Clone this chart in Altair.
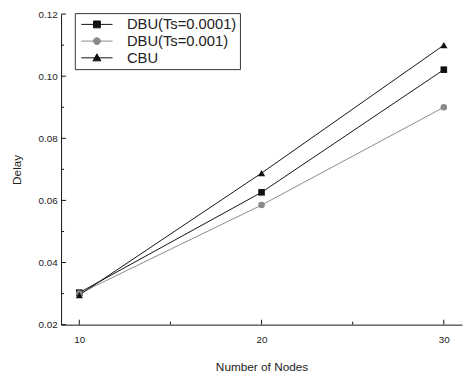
import altair as alt
import pandas as pd

nodes = [10, 20, 30]
series_names = ["DBU(Ts=0.0001)", "DBU(Ts=0.001)", "CBU"]
dbu_0001 = [0.0303, 0.0626, 0.1021]
dbu_001 = [0.0300, 0.0585, 0.0900]
cbu = [0.0295, 0.0688, 0.1100]
series_colors = ["#111111", "#8a8a8a", "#111111"]
marker_shapes = ["square", "circle", "triangle-up"]
legend_paths = [
    "M-2.05,0H2.05M-0.45,-0.45H0.45V0.45H-0.45Z",
    "M-2.05,0H2.05M-0.45,0A0.45,0.45 0 1,0 0.45,0A0.45,0.45 0 1,0 -0.45,0Z",
    "M-2.05,0H2.05M0,-0.52L0.52,0.4H-0.52Z",
]
x_major = [10, 20, 30]
x_minor = [15, 25]
y_major = [0.02, 0.04, 0.06, 0.08, 0.10, 0.12]
y_minor = [0.03, 0.05, 0.07, 0.09, 0.11]

rows = []
for name, vals in zip(series_names, [dbu_0001, dbu_001, cbu]):
    for n, v in zip(nodes, vals):
        rows.append({"nodes": n, "delay": v, "series": name})
df = pd.DataFrame(rows)

FONT = "Liberation Sans"
xs = alt.Scale(domain=[9, 31], nice=False, zero=False)
ys = alt.Scale(domain=[0.02, 0.12], nice=False, zero=False)
cs = alt.Scale(domain=series_names, range=series_colors)

leg = alt.Legend(orient="none", legendX=14, legendY=-1, title=None)

x_enc = alt.X("nodes:Q", scale=xs,
              axis=alt.Axis(values=x_major, title="Number of Nodes", format="d",
                            ticks=False, grid=False, labelPadding=10,
                            titlePadding=18))
y_enc = alt.Y("delay:Q", scale=ys,
              axis=alt.Axis(values=y_major, title="Delay", format=".2f",
                            ticks=False, grid=False, labelPadding=4,
                            titlePadding=15))

base = alt.Chart(df)

lines = base.mark_line(strokeWidth=1).encode(
    x=x_enc, y=y_enc,
    color=alt.Color("series:N", scale=cs, legend=leg),
    detail="series:N",
)

point_layers = []
for name, shp, col in zip(series_names, marker_shapes, series_colors):
    point_layers.append(
        base.transform_filter(alt.datum.series == name)
        .mark_point(shape=shp, filled=True, size=45 if shp != "triangle-up" else 55,
                    opacity=1, color=col)
        .encode(x="nodes:Q", y="delay:Q")
    )

legend_layer = base.mark_point(filled=True, size=1, opacity=1).encode(
    x="nodes:Q", y="delay:Q",
    fill=alt.Fill("series:N", scale=alt.Scale(domain=series_names, range=series_colors),
                  legend=leg),
    shape=alt.Shape("series:N", scale=alt.Scale(domain=series_names, range=legend_paths),
                    legend=leg),
)

# inward tick marks
xt_major = alt.Chart(pd.DataFrame({"v": x_major})).mark_rule(color="#111", strokeWidth=1).encode(
    x=alt.X("v:Q", scale=xs), y=alt.value(316), y2=alt.value(311))
xt_minor = alt.Chart(pd.DataFrame({"v": x_minor})).mark_rule(color="#111", strokeWidth=1).encode(
    x=alt.X("v:Q", scale=xs), y=alt.value(316), y2=alt.value(313))
yt_major = alt.Chart(pd.DataFrame({"v": y_major})).mark_rule(color="#111", strokeWidth=1).encode(
    y=alt.Y("v:Q", scale=ys), x=alt.value(0), x2=alt.value(5))
yt_minor = alt.Chart(pd.DataFrame({"v": y_minor})).mark_rule(color="#111", strokeWidth=1).encode(
    y=alt.Y("v:Q", scale=ys), x=alt.value(0), x2=alt.value(3))

chart = alt.layer(lines, *point_layers, legend_layer,
                  xt_major, xt_minor, yt_major, yt_minor).properties(
    width=408, height=316,
    autosize=alt.AutoSizeParams(type="none"),
    padding={"top": 3, "left": 54, "right": 2, "bottom": 45},
    background="white",
).configure_view(stroke=None).configure_axis(
    domainColor="#111", domainWidth=1,
    labelFont=FONT, titleFont=FONT, labelFontSize=10, titleFontSize=12,
    labelColor="#222", titleColor="#222", titleFontWeight="normal",
).configure_legend(
    strokeColor="#333", fillColor="white",
    padding=3, symbolSize=240, symbolStrokeWidth=1, symbolOpacity=1,
    symbolOffset=11, labelOffset=22, rowPadding=0,
    labelFont=FONT, labelFontSize=15, labelColor="#222",
)

chart.save("out.html", embed_options={"renderer": "svg", "actions": False})
